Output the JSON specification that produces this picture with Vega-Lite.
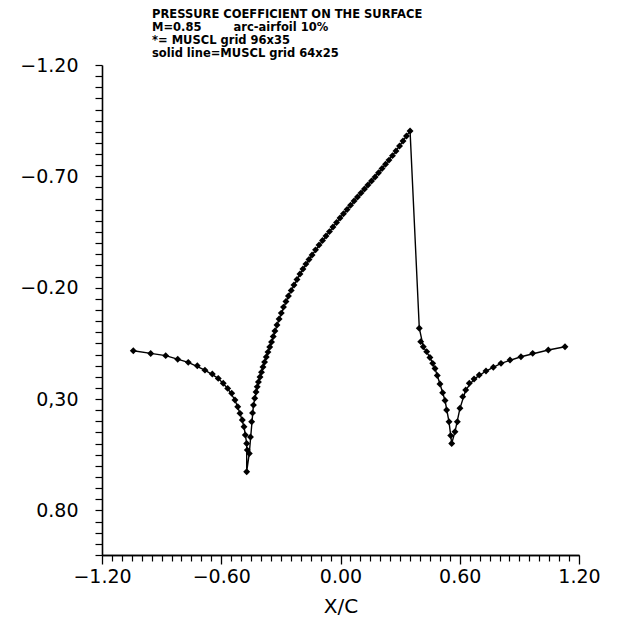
{
  "$schema": "https://vega.github.io/schema/vega-lite/v6.json",
  "width": 477,
  "height": 490,
  "autosize": {"type": "none"},
  "padding": {"left": 102, "top": 65, "right": 49, "bottom": 73},
  "background": "white",
  "config": {"view": {"stroke": null}, "font": "DejaVu Sans"},
  "title": {
    "text": [
      "PRESSURE COEFFICIENT ON THE SURFACE",
      "M=0.85\u00a0\u00a0\u00a0\u00a0\u00a0\u00a0\u00a0\u00a0arc-airfoil 10%",
      "*= MUSCL grid 96x35",
      "solid line=MUSCL grid 64x25"
    ],
    "anchor": "start",
    "frame": "group",
    "dx": 50,
    "offset": -4,
    "font": "DejaVu Sans",
    "fontSize": 11.5,
    "fontWeight": "bold",
    "lineHeight": 13.2,
    "color": "black"
  },
  "datasets": {
    "fine": [
      {"i": 1, "x": -1.0425, "cp": 0.083},
      {"i": 2, "x": -0.955, "cp": 0.095},
      {"i": 3, "x": -0.8795, "cp": 0.105},
      {"i": 4, "x": -0.819, "cp": 0.1215},
      {"i": 5, "x": -0.766, "cp": 0.135},
      {"i": 6, "x": -0.7205, "cp": 0.150},
      {"i": 7, "x": -0.682, "cp": 0.170},
      {"i": 8, "x": -0.645, "cp": 0.1875},
      {"i": 9, "x": -0.615, "cp": 0.207},
      {"i": 10, "x": -0.590, "cp": 0.229},
      {"i": 11, "x": -0.5675, "cp": 0.252},
      {"i": 12, "x": -0.5474, "cp": 0.274},
      {"i": 13, "x": -0.531, "cp": 0.304},
      {"i": 14, "x": -0.517, "cp": 0.334},
      {"i": 15, "x": -0.5057, "cp": 0.364},
      {"i": 16, "x": -0.494, "cp": 0.394},
      {"i": 17, "x": -0.4855, "cp": 0.424},
      {"i": 18, "x": -0.479, "cp": 0.461},
      {"i": 19, "x": -0.472, "cp": 0.499},
      {"i": 20, "x": -0.469, "cp": 0.529},
      {"i": 21, "x": -0.472, "cp": 0.626},
      {"i": 22, "x": -0.459, "cp": 0.544},
      {"i": 23, "x": -0.453, "cp": 0.47},
      {"i": 24, "x": -0.447, "cp": 0.402},
      {"i": 25, "x": -0.4425, "cp": 0.362},
      {"i": 26, "x": -0.438, "cp": 0.327},
      {"i": 27, "x": -0.4315, "cp": 0.296},
      {"i": 28, "x": -0.425, "cp": 0.268},
      {"i": 29, "x": -0.419, "cp": 0.245},
      {"i": 30, "x": -0.413, "cp": 0.223},
      {"i": 31, "x": -0.405, "cp": 0.201},
      {"i": 32, "x": -0.3975, "cp": 0.179},
      {"i": 33, "x": -0.390, "cp": 0.156},
      {"i": 34, "x": -0.382, "cp": 0.134},
      {"i": 35, "x": -0.3735, "cp": 0.111},
      {"i": 36, "x": -0.365, "cp": 0.089},
      {"i": 37, "x": -0.356, "cp": 0.066},
      {"i": 38, "x": -0.347, "cp": 0.044},
      {"i": 39, "x": -0.3385, "cp": 0.019},
      {"i": 40, "x": -0.330, "cp": -0.006},
      {"i": 41, "x": -0.3195, "cp": -0.033},
      {"i": 42, "x": -0.309, "cp": -0.0595},
      {"i": 43, "x": -0.298, "cp": -0.086},
      {"i": 44, "x": -0.287, "cp": -0.113},
      {"i": 45, "x": -0.2745, "cp": -0.138},
      {"i": 46, "x": -0.262, "cp": -0.163},
      {"i": 47, "x": -0.248, "cp": -0.188},
      {"i": 48, "x": -0.234, "cp": -0.212},
      {"i": 49, "x": -0.219, "cp": -0.237},
      {"i": 50, "x": -0.204, "cp": -0.2615},
      {"i": 51, "x": -0.189, "cp": -0.284},
      {"i": 52, "x": -0.174, "cp": -0.306},
      {"i": 53, "x": -0.1585, "cp": -0.327},
      {"i": 54, "x": -0.143, "cp": -0.347},
      {"i": 55, "x": -0.1255, "cp": -0.370},
      {"i": 56, "x": -0.108, "cp": -0.392},
      {"i": 57, "x": -0.0905, "cp": -0.412},
      {"i": 58, "x": -0.073, "cp": -0.432},
      {"i": 59, "x": -0.0555, "cp": -0.452},
      {"i": 60, "x": -0.038, "cp": -0.4726},
      {"i": 61, "x": -0.020, "cp": -0.493},
      {"i": 62, "x": -0.0025, "cp": -0.513},
      {"i": 63, "x": 0.015, "cp": -0.532},
      {"i": 64, "x": 0.033, "cp": -0.551},
      {"i": 65, "x": 0.0505, "cp": -0.570},
      {"i": 66, "x": 0.068, "cp": -0.589},
      {"i": 67, "x": 0.0855, "cp": -0.607},
      {"i": 68, "x": 0.103, "cp": -0.625},
      {"i": 69, "x": 0.1205, "cp": -0.643},
      {"i": 70, "x": 0.138, "cp": -0.661},
      {"i": 71, "x": 0.156, "cp": -0.679},
      {"i": 72, "x": 0.174, "cp": -0.697},
      {"i": 73, "x": 0.1915, "cp": -0.716},
      {"i": 74, "x": 0.209, "cp": -0.735},
      {"i": 75, "x": 0.2265, "cp": -0.754},
      {"i": 76, "x": 0.244, "cp": -0.773},
      {"i": 77, "x": 0.2615, "cp": -0.793},
      {"i": 78, "x": 0.279, "cp": -0.814},
      {"i": 79, "x": 0.297, "cp": -0.836},
      {"i": 80, "x": 0.3145, "cp": -0.859},
      {"i": 81, "x": 0.332, "cp": -0.881},
      {"i": 82, "x": 0.350, "cp": -0.904},
      {"i": 83, "x": 0.3965, "cp": -0.018},
      {"i": 84, "x": 0.4035, "cp": 0.042},
      {"i": 85, "x": 0.4166, "cp": 0.065},
      {"i": 86, "x": 0.4337, "cp": 0.087},
      {"i": 87, "x": 0.450, "cp": 0.113},
      {"i": 88, "x": 0.464, "cp": 0.1395},
      {"i": 89, "x": 0.4755, "cp": 0.163},
      {"i": 90, "x": 0.487, "cp": 0.194},
      {"i": 91, "x": 0.5006, "cp": 0.232},
      {"i": 92, "x": 0.514, "cp": 0.271},
      {"i": 93, "x": 0.526, "cp": 0.3065},
      {"i": 94, "x": 0.534, "cp": 0.349},
      {"i": 95, "x": 0.546, "cp": 0.402},
      {"i": 96, "x": 0.5545, "cp": 0.464},
      {"i": 97, "x": 0.5595, "cp": 0.499},
      {"i": 98, "x": 0.576, "cp": 0.447},
      {"i": 99, "x": 0.588, "cp": 0.402},
      {"i": 100, "x": 0.601, "cp": 0.3415},
      {"i": 101, "x": 0.615, "cp": 0.289},
      {"i": 102, "x": 0.630, "cp": 0.259},
      {"i": 103, "x": 0.648, "cp": 0.229},
      {"i": 104, "x": 0.672, "cp": 0.210},
      {"i": 105, "x": 0.698, "cp": 0.192},
      {"i": 106, "x": 0.732, "cp": 0.174},
      {"i": 107, "x": 0.769, "cp": 0.157},
      {"i": 108, "x": 0.8075, "cp": 0.1395},
      {"i": 109, "x": 0.853, "cp": 0.1246},
      {"i": 110, "x": 0.908, "cp": 0.110},
      {"i": 111, "x": 0.967, "cp": 0.0946},
      {"i": 112, "x": 1.0455, "cp": 0.0797},
      {"i": 113, "x": 1.1295, "cp": 0.065}
    ],
    "coarse": [
      {"i": 1, "x": -1.0425, "cp": 0.083},
      {"i": 2, "x": -0.955, "cp": 0.095},
      {"i": 3, "x": -0.8795, "cp": 0.105},
      {"i": 4, "x": -0.766, "cp": 0.135},
      {"i": 5, "x": -0.682, "cp": 0.170},
      {"i": 6, "x": -0.615, "cp": 0.207},
      {"i": 7, "x": -0.5675, "cp": 0.252},
      {"i": 8, "x": -0.531, "cp": 0.304},
      {"i": 9, "x": -0.5057, "cp": 0.364},
      {"i": 10, "x": -0.4855, "cp": 0.424},
      {"i": 11, "x": -0.472, "cp": 0.499},
      {"i": 12, "x": -0.472, "cp": 0.626},
      {"i": 13, "x": -0.459, "cp": 0.544},
      {"i": 14, "x": -0.438, "cp": 0.327},
      {"i": 15, "x": -0.413, "cp": 0.223},
      {"i": 16, "x": -0.382, "cp": 0.134},
      {"i": 17, "x": -0.347, "cp": 0.044},
      {"i": 18, "x": -0.309, "cp": -0.0595},
      {"i": 19, "x": -0.262, "cp": -0.163},
      {"i": 20, "x": -0.204, "cp": -0.2615},
      {"i": 21, "x": -0.143, "cp": -0.347},
      {"i": 22, "x": -0.073, "cp": -0.432},
      {"i": 23, "x": -0.0025, "cp": -0.513},
      {"i": 24, "x": 0.068, "cp": -0.589},
      {"i": 25, "x": 0.138, "cp": -0.661},
      {"i": 26, "x": 0.209, "cp": -0.735},
      {"i": 27, "x": 0.279, "cp": -0.814},
      {"i": 28, "x": 0.350, "cp": -0.904},
      {"i": 29, "x": 0.3965, "cp": -0.018},
      {"i": 30, "x": 0.4166, "cp": 0.065},
      {"i": 31, "x": 0.450, "cp": 0.113},
      {"i": 32, "x": 0.4755, "cp": 0.163},
      {"i": 33, "x": 0.5006, "cp": 0.232},
      {"i": 34, "x": 0.526, "cp": 0.3065},
      {"i": 35, "x": 0.546, "cp": 0.402},
      {"i": 36, "x": 0.5595, "cp": 0.499},
      {"i": 37, "x": 0.576, "cp": 0.447},
      {"i": 38, "x": 0.601, "cp": 0.3415},
      {"i": 39, "x": 0.630, "cp": 0.259},
      {"i": 40, "x": 0.672, "cp": 0.210},
      {"i": 41, "x": 0.732, "cp": 0.174},
      {"i": 42, "x": 0.8075, "cp": 0.1395},
      {"i": 43, "x": 0.908, "cp": 0.110},
      {"i": 44, "x": 1.0455, "cp": 0.0797},
      {"i": 45, "x": 1.1295, "cp": 0.065}
    ]
  },
  "encoding": {
    "y": {
      "field": "cp",
      "type": "quantitative",
      "scale": {"domain": [-1.2, 1.0], "reverse": true, "nice": false, "zero": false},
      "axis": {
        "title": null,
        "grid": false,
        "domainColor": "black",
        "domainWidth": 1.6,
        "ticks": true,
        "tickColor": "black",
        "tickWidth": 1.2,
        "tickSize": 7,
        "values": [-1.2, -1.15, -1.1, -1.05, -1.0, -0.95, -0.9, -0.85, -0.8, -0.75, -0.7, -0.65, -0.6, -0.55, -0.5, -0.45, -0.4, -0.35, -0.3, -0.25, -0.2, -0.15, -0.1, -0.05, 0.0, 0.05, 0.1, 0.15, 0.2, 0.25, 0.3, 0.35, 0.4, 0.45, 0.5, 0.55, 0.6, 0.65, 0.7, 0.75, 0.8, 0.85, 0.9, 0.95, 1.0],
        "labelExpr": "abs((datum.value + 1.2)/0.5 - round((datum.value + 1.2)/0.5)) < 0.001 ? (abs(datum.value - 0.3) < 0.001 ? '0,30' : format(datum.value, '.2f')) : ''",
        "labelFont": "DejaVu Sans",
        "labelFontSize": 19,
        "labelColor": "black",
        "labelPadding": 17,
        "labelOverlap": false,
        "labelFlush": false,
        "labelBound": false
      }
    },
    "order": {"field": "i", "type": "quantitative"}
  },
  "layer": [
    {
      "data": {"name": "coarse"},
      "mark": {"type": "line", "color": "black", "strokeWidth": 1.4},
      "encoding": {
        "x": {
          "field": "x",
          "type": "quantitative",
          "scale": {"domain": [-1.2, 1.2], "nice": false, "zero": false},
          "axis": {
            "orient": "bottom",
            "title": "X/C",
            "titleFont": "DejaVu Sans",
            "titleFontSize": 20,
            "titleFontWeight": "normal",
            "titleColor": "black",
            "titlePadding": 10,
            "grid": false,
            "domainColor": "black",
            "domainWidth": 1.6,
            "tickColor": "black",
            "tickWidth": 1.3,
            "tickSize": 9,
            "values": [-1.2, -0.6, 0.0, 0.6, 1.2],
            "format": ".2f",
            "labelFont": "DejaVu Sans",
            "labelFontSize": 19,
            "labelColor": "black",
            "labelPadding": 3,
            "labelOverlap": false,
            "labelFlush": false,
            "labelBound": false
          }
        }
      }
    },
    {
      "data": {"name": "fine"},
      "mark": {"type": "point", "filled": true, "shape": "diamond", "size": 48, "color": "black", "opacity": 1},
      "encoding": {
        "x": {
          "field": "x",
          "type": "quantitative",
          "scale": {"domain": [-1.2, 1.2], "nice": false, "zero": false},
          "axis": {
            "orient": "bottom",
            "title": null,
            "labels": false,
            "grid": false,
            "domainColor": "black",
            "domainWidth": 1.6,
            "tickColor": "black",
            "tickWidth": 1.2,
            "tickSize": 6,
            "values": [-1.15, -1.1, -1.05, -1.0, -0.95, -0.9, -0.85, -0.8, -0.75, -0.7, -0.65, -0.55, -0.5, -0.45, -0.4, -0.35, -0.3, -0.25, -0.2, -0.15, -0.1, -0.05, 0.05, 0.1, 0.15, 0.2, 0.25, 0.3, 0.35, 0.4, 0.45, 0.5, 0.55, 0.65, 0.7, 0.75, 0.8, 0.85, 0.9, 0.95, 1.0, 1.05, 1.1, 1.15]
          }
        }
      }
    }
  ],
  "resolve": {"axis": {"x": "independent"}}
}
